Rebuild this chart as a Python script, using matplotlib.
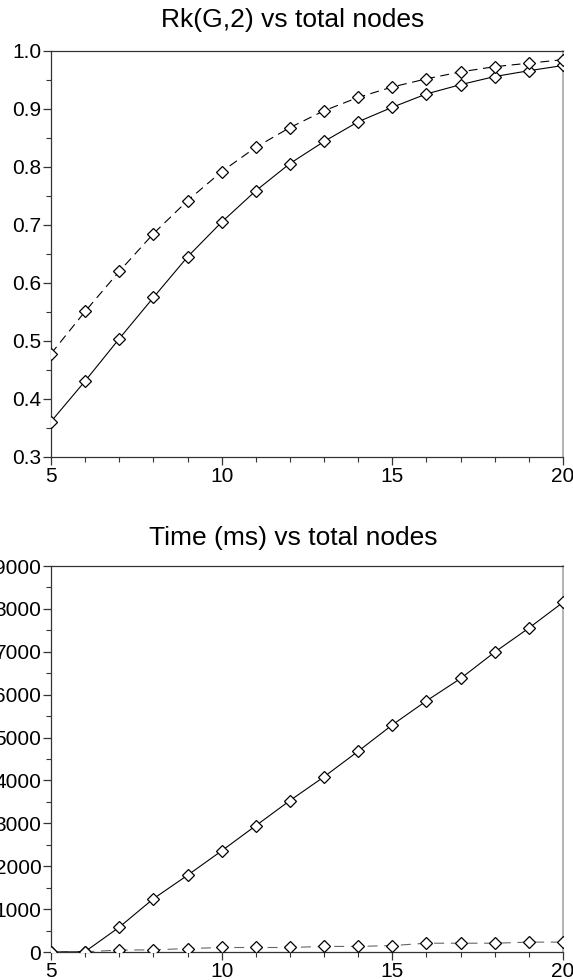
import matplotlib
matplotlib.use("Agg")
import matplotlib.pyplot as plt
from matplotlib.ticker import MultipleLocator, FormatStrFormatter

plt.rcParams['font.family'] = ['Liberation Sans', 'DejaVu Sans']

# total nodes
nodes = [5, 6, 7, 8, 9, 10, 11, 12, 13, 14, 15, 16, 17, 18, 19, 20]

# Rk(G,2), two series (solid / dashed)
rk_solid = [0.361, 0.431, 0.504, 0.575, 0.645, 0.705, 0.759, 0.806, 0.844,
            0.878, 0.903, 0.926, 0.942, 0.956, 0.966, 0.975]
rk_dashed = [0.478, 0.551, 0.620, 0.685, 0.742, 0.792, 0.834, 0.868, 0.897,
             0.920, 0.938, 0.952, 0.964, 0.973, 0.979, 0.985]

# time in ms, two series (solid / dashed)
time_solid = [0, 10, 578, 1242, 1789, 2359, 2945, 3531, 4086,
              4681, 5296, 5856, 6377, 6992, 7553, 8152]
time_dashed = [0, 5, 45, 50, 80, 105, 105, 105, 130,
               130, 150, 205, 205, 205, 230, 230]

titles = ["Rk(G,2) vs total nodes", "Time (ms) vs total nodes"]

W, H = 573, 980
fig = plt.figure(figsize=(W/100, H/100), dpi=100)
# axes boxes in pixels: left, top, right, bottom
ax1 = fig.add_axes([51/W, 1 - 457/H, 512/W, 406/H])
ax2 = fig.add_axes([51/W, 1 - 952/H, 512/W, 386/H])


def draw(ax, ys, yd, dash_color, dash):
    ax.plot(nodes, ys, color='black', lw=0.8, marker='D', ms=6.3,
            mfc='white', mec='black', mew=0.9, zorder=3)
    ax.plot(nodes, yd, color=dash_color, lw=0.8, dashes=dash, marker='D', ms=6.3,
            mfc='white', mec='black', mew=0.9, zorder=3)


draw(ax1, rk_solid, rk_dashed, 'black', (8, 5))
draw(ax2, time_solid, time_dashed, '#666666', (9, 6))

ax1.set_ylim(0.3, 1.0)
ax1.yaxis.set_major_locator(MultipleLocator(0.1))
ax1.yaxis.set_minor_locator(MultipleLocator(0.05))
ax1.yaxis.set_major_formatter(FormatStrFormatter('%.1f'))

ax2.set_ylim(0, 9000)
ax2.yaxis.set_major_locator(MultipleLocator(1000))
ax2.yaxis.set_minor_locator(MultipleLocator(500))

for ax in [ax1, ax2]:
    ax.set_xlim(5, 20)
    ax.xaxis.set_major_locator(MultipleLocator(5))
    ax.xaxis.set_minor_locator(MultipleLocator(1))
    ax.tick_params(which='major', length=6, width=0.9, color='#333333',
                   labelsize=15, pad=1)
    ax.tick_params(which='minor', length=3.5, width=0.8, color='#333333')
    for s in ['left', 'bottom', 'top']:
        ax.spines[s].set_color('#333333')
        ax.spines[s].set_linewidth(0.9)
    ax.spines['right'].set_color('#a8a8a8')
    ax.spines['right'].set_linewidth(1.2)

# titles sit a little left of the axes centre
fig.text(293/W, 1 - 20/H, titles[0], fontsize=19, ha='center', va='center')
fig.text(293/W, 1 - 538/H, titles[1], fontsize=19, ha='center', va='center')

plt.savefig('out.png', dpi=100)
